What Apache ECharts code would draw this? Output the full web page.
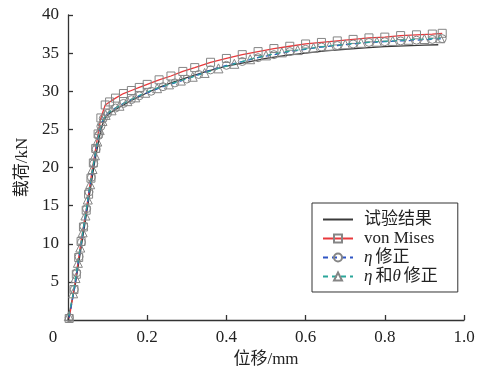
<!DOCTYPE html>
<html><head><meta charset="utf-8">
<script src="https://cdn.jsdelivr.net/npm/echarts@6/dist/echarts.min.js"></script>
<style>html,body{margin:0;padding:0;background:#fff}#c{width:484px;height:373px}</style>
</head><body><div id="c"></div>
<script>
var seriesNames = ['试验结果', 'von Mises', 'η修正', 'η和θ修正'];
var xTicks = [0, 0.2, 0.4, 0.6, 0.8, 1.0];
var yTicks = [0, 5, 10, 15, 20, 25, 30, 35, 40];
var testData = [[0,0],[0.018,4.5],[0.034,9.8],[0.05,15],[0.066,20.3],[0.08,24.2],[0.088,25.8],[0.095,26.6],[0.105,27.1],[0.12,27.6],[0.14,28.2],[0.16,28.8],[0.18,29.3],[0.2,29.8],[0.23,30.5],[0.26,31.1],[0.3,31.8],[0.35,32.6],[0.4,33.3],[0.45,33.8],[0.5,34.3],[0.55,34.7],[0.6,35.0],[0.65,35.3],[0.7,35.5],[0.75,35.7],[0.8,35.85],[0.85,35.95],[0.9,36.05],[0.935,36.1]];
var misesData = [[0.003,0.2],[0.015,4.0],[0.021,6.0],[0.027,8.2],[0.033,10.3],[0.039,12.2],[0.046,14.4],[0.052,16.5],[0.058,18.6],[0.064,20.6],[0.070,22.5],[0.076,24.4],[0.083,26.5],[0.094,28.2],[0.105,28.6],[0.12,29.1],[0.14,29.7],[0.16,30.1],[0.18,30.5],[0.20,30.9],[0.23,31.5],[0.26,32.0],[0.29,32.6],[0.32,33.1],[0.36,33.8],[0.40,34.3],[0.44,34.8],[0.48,35.2],[0.52,35.6],[0.56,35.9],[0.60,36.2],[0.64,36.4],[0.68,36.6],[0.72,36.8],[0.76,37.0],[0.80,37.1],[0.84,37.3],[0.88,37.4],[0.92,37.5],[0.945,37.6]];
var etaData = [[0.003,0.3],[0.016,4.0],[0.022,6.2],[0.028,8.3],[0.034,10.2],[0.040,12.3],[0.047,14.6],[0.053,16.8],[0.059,18.7],[0.065,20.5],[0.071,22.4],[0.077,24.2],[0.083,25.4],[0.089,26.4],[0.10,27.1],[0.12,27.8],[0.14,28.4],[0.16,28.9],[0.18,29.4],[0.21,30.0],[0.24,30.6],[0.27,31.1],[0.30,31.6],[0.33,32.2],[0.36,32.8],[0.40,33.4],[0.44,33.9],[0.48,34.4],[0.52,34.8],[0.56,35.2],[0.60,35.5],[0.64,35.8],[0.68,36.0],[0.72,36.2],[0.76,36.4],[0.80,36.5],[0.84,36.6],[0.88,36.7],[0.92,36.8],[0.945,36.9]];
var etaThetaData = [[0.002,0.5],[0.013,3.5],[0.019,5.5],[0.025,7.5],[0.031,9.5],[0.037,11.5],[0.044,13.7],[0.050,15.8],[0.056,17.8],[0.062,19.8],[0.068,21.6],[0.074,23.4],[0.080,24.9],[0.087,26.1],[0.095,26.9],[0.11,27.5],[0.13,28.1],[0.15,28.7],[0.17,29.2],[0.195,29.8],[0.225,30.4],[0.255,30.9],[0.285,31.4],[0.315,31.9],[0.345,32.4],[0.38,33.0],[0.42,33.6],[0.46,34.2],[0.50,34.7],[0.54,35.1],[0.58,35.4],[0.62,35.7],[0.66,35.95],[0.70,36.15],[0.74,36.35],[0.78,36.5],[0.82,36.6],[0.86,36.75],[0.90,36.85],[0.94,36.95]];

var FONT = '"Liberation Serif", "Times New Roman", "Noto Sans CJK SC", serif';
var markerStyle = {color: 'rgba(255,255,255,0)', borderColor: '#858585', borderWidth: 1};
var chart = echarts.init(document.getElementById('c'), null, {renderer: 'canvas'});
chart.setOption({
  animation: false,
  backgroundColor: '#fff',
  textStyle: {fontFamily: FONT},
  grid: {left: 68, right: 20, top: 15, bottom: 53, containLabel: false},
  legend: {
    orient: 'vertical', left: 312, top: 203,
    padding: [8, 20, 7, 10],
    itemGap: 2, itemWidth: 30, itemHeight: 10,
    borderColor: '#333', borderWidth: 1, backgroundColor: '#fff',
    data: [
      {name: seriesNames[0], itemStyle: {opacity: 0}},
      seriesNames[1], seriesNames[2], seriesNames[3]
    ],
    formatter: function (n) {
      if (n === 'η修正') return '{i|η}修正';
      if (n === 'η和θ修正') return '{i|η}和{i|θ}修正';
      return n;
    },
    textStyle: {fontFamily: FONT, fontSize: 17, color: '#222', padding: [0, 0, 0, 6],
      rich: {i: {fontStyle: 'italic', fontFamily: FONT, fontSize: 17, color: '#222', padding: [0, 3, 0, 0]}}}
  },
  xAxis: {
    type: 'value', min: 0, max: 1, interval: 0.2,
    name: '位移/mm', nameLocation: 'middle', nameGap: 29,
    nameTextStyle: {fontFamily: FONT, fontSize: 17, color: '#222'},
    axisLine: {lineStyle: {color: '#333', width: 1.3}},
    axisTick: {inside: true, length: 5, lineStyle: {color: '#333', width: 1.3}},
    splitLine: {show: false},
    axisLabel: {
      margin: 9, fontFamily: FONT, fontSize: 17, color: '#222',
      formatter: function (v) {
        if (v === 0) return '{z|0}';
        return v.toFixed(1);
      },
      rich: {z: {padding: [0, 30, 0, 0], fontFamily: FONT, fontSize: 17, color: '#222'}}
    }
  },
  yAxis: {
    type: 'value', min: 0, max: 40, interval: 5,
    name: '载荷/kN', nameLocation: 'middle', nameGap: 37,
    nameTextStyle: {fontFamily: FONT, fontSize: 17, color: '#222'},
    axisLine: {show: true, lineStyle: {color: '#333', width: 1.3}},
    axisTick: {show: true, inside: true, length: 5, lineStyle: {color: '#333', width: 1.3}},
    splitLine: {show: false},
    axisLabel: {
      margin: 9, fontFamily: FONT, fontSize: 17, color: '#222',
      formatter: function (v) { return v === 0 ? '' : String(v); }
    }
  },
  series: [
    {name: seriesNames[0], type: 'line', data: testData, showSymbol: false, symbol: 'none',
     lineStyle: {color: '#3a3a3a', width: 1.3}, itemStyle: {color: '#3a3a3a'}, z: 2},
    {name: seriesNames[1], type: 'line', data: misesData, symbol: 'rect', symbolSize: 8,
     lineStyle: {color: '#e8393c', width: 1.3}, itemStyle: markerStyle, z: 3},
    {name: seriesNames[2], type: 'line', data: etaData, symbol: 'circle', symbolSize: 8,
     lineStyle: {color: '#2f55c4', width: 1.3, type: [5, 4]}, itemStyle: markerStyle, z: 4},
    {name: seriesNames[3], type: 'line', data: etaThetaData, symbol: 'triangle', symbolSize: 9,
     lineStyle: {color: '#2aa69a', width: 1.3, type: [5, 4]}, itemStyle: markerStyle, z: 5}
  ]
});
</script></body></html>
